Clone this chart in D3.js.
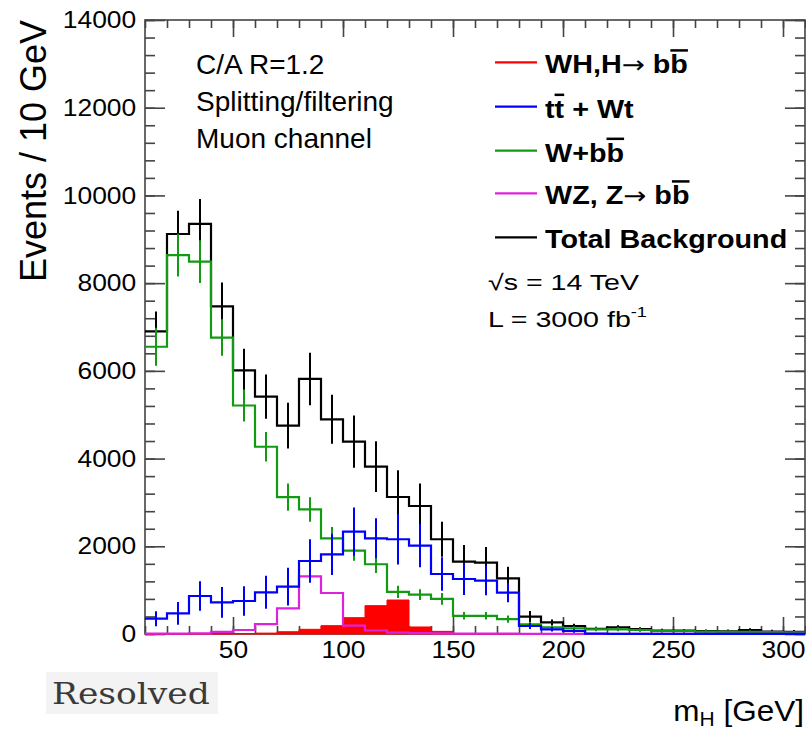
<!DOCTYPE html>
<html>
<head>
<meta charset="utf-8">
<script src="https://cdn.jsdelivr.net/npm/d3@7/dist/d3.min.js"></script>
<style>
  html, body { margin: 0; padding: 0; background: #fff; }
  svg { display: block; }
  text { font-family: "Liberation Sans", Arial, Helvetica, sans-serif; fill: #000; }
</style>
</head>
<body>
<svg id="chart" width="806" height="732"></svg>
<script>
// ---------------- DATA ----------------
// lower bin edges (GeV), bin width 10 GeV
const binLow = [10,20,30,40,50,60,70,80,90,100,110,120,130,140,150,160,170,180,190,200,210,220,230,240,250,260,270,280,290,300];
const binWidth = 10;

const sigWH   = [5,5,5,8,10,20,52,107,190,372,646,775,160,60,10,5,3,2,0,0,0,0,0,0,0,0,0,0,0,0];
const bkgTop  = [350,471,866,722,753,951,1080,1665,1817,2333,2182,2160,2014,1368,1254,1216,945,182,107,68,8,5,5,3,3,2,2,2,2,2];
const bkgTopErr = [171,258,338,350,335,376,430,494,470,550,456,578,494,380,365,335,220,70,50,40,10,5,5,5,5,5,5,5,5,5];
const bkgWbb  = [6550,8640,8490,6760,5210,4270,3120,2840,2180,1900,1590,960,900,800,415,415,340,221,152,130,107,107,91,68,68,55,50,50,45,40];
const bkgWbbErr = [433,486,486,418,365,335,312,278,258,228,198,141,122,133,84,84,84,60,50,45,45,45,40,35,35,30,30,30,30,30];
const bkgWZ   = [10,10,15,50,91,225,586,1315,935,190,80,30,20,15,10,10,8,5,5,5,5,5,5,5,5,5,5,5,5,5];
const bkgTot  = [6900,9120,9350,7470,6010,5412,4750,5815,4896,4386,3816,3124,2919,2160,1650,1627,1269,395,266,182,120,152,110,80,75,65,60,90,55,50];
const bkgTotErr = [456,532,570,547,494,506,520,600,559,597,578,610,510,400,380,357,266,130,65,50,45,45,45,40,40,40,40,40,40,40];

const yTicks = [0,2000,4000,6000,8000,10000,12000,14000];
const xTicks = [50,100,150,200,250,300];

const legendLabels = ["WH,H", "t", "W+b", "WZ, Z", "Total Background"];
const infoLines = ["C/A R=1.2", "Splitting/filtering", "Muon channel"];

// ---------------- LAYOUT ----------------
const svg = d3.select("#chart");
const L = 145, R = 805, T = 20, B = 634;

const x = d3.scaleLinear().domain([10, 310]).range([L, R]);
const y = d3.scaleLinear().domain([0, 14000]).range([B, T]);

const colors = { red: "#ff0000", blue: "#0000ff", green: "#129a12", magenta: "#dd22dd", black: "#000000" };
const axisColor = "#444";

// ---------------- AXES ----------------
function styleAxis(g) {
  g.select(".domain").remove();
  g.selectAll("line").attr("stroke", axisColor).attr("stroke-width", 1.6);
}
const yMinor = d3.range(0, 14001, 400);
const xMinor = d3.range(10, 311, 10);

// left
svg.append("g").attr("transform", `translate(${L},0)`)
  .call(d3.axisLeft(y).tickValues(yMinor).tickSize(-10).tickFormat(""))
  .call(styleAxis);
const yAx = svg.append("g").attr("transform", `translate(${L},0)`)
  .call(d3.axisLeft(y).tickValues(yTicks).tickSize(-20).tickPadding(8).tickFormat(d3.format("d")))
  .call(styleAxis);
yAx.selectAll("text").attr("font-size", 24).attr("fill", "#000")
  .style("font-family", "'Liberation Sans', Arial, sans-serif")
  .attr("transform", "scale(1.1,1)");
// right
svg.append("g").attr("transform", `translate(${R},0)`)
  .call(d3.axisRight(y).tickValues(yMinor).tickSize(-10).tickFormat(""))
  .call(styleAxis);
svg.append("g").attr("transform", `translate(${R},0)`)
  .call(d3.axisRight(y).tickValues(yTicks).tickSize(-20).tickFormat(""))
  .call(styleAxis);
// bottom
svg.append("g").attr("transform", `translate(0,${B})`)
  .call(d3.axisBottom(x).tickValues(xMinor).tickSize(-8).tickFormat(""))
  .call(styleAxis);
const xAx = svg.append("g").attr("transform", `translate(0,${B})`)
  .call(d3.axisBottom(x).tickValues(xTicks).tickSize(-17).tickPadding(7).tickFormat(d3.format("d")))
  .call(styleAxis);
xAx.selectAll("text").attr("font-size", 24).attr("fill", "#000")
  .style("font-family", "'Liberation Sans', Arial, sans-serif")
  .attr("transform", "scale(1.1,1)");
// top
svg.append("g").attr("transform", `translate(0,${T})`)
  .call(d3.axisTop(x).tickValues(xMinor).tickSize(-8).tickFormat(""))
  .call(styleAxis);
svg.append("g").attr("transform", `translate(0,${T})`)
  .call(d3.axisTop(x).tickValues(xTicks).tickSize(-17).tickFormat(""))
  .call(styleAxis);

// frame
svg.append("rect").attr("x", L).attr("y", T).attr("width", R - L).attr("height", B - T)
  .attr("fill", "none").attr("stroke", axisColor).attr("stroke-width", 1.6);

// ---------------- HISTOGRAMS ----------------
function stepPoints(vals) {
  const pts = [];
  vals.forEach((v, i) => {
    pts.push([binLow[i], v]);
    pts.push([binLow[i] + binWidth, v]);
  });
  return pts;
}
const line = d3.line().x(d => x(d[0])).y(d => y(d[1]));
const area = d3.area().x(d => x(d[0])).y0(y(0)).y1(d => y(d[1]));

const plot = svg.append("g");

// signal: filled red
plot.append("path").attr("d", area(stepPoints(sigWH))).attr("fill", colors.red).attr("stroke", colors.red).attr("stroke-width", 1);

function drawHist(vals, errs, color) {
  const g = plot.append("g");
  g.append("path").attr("d", line(stepPoints(vals)))
    .attr("fill", "none").attr("stroke", color).attr("stroke-width", 2.2);
  if (errs) {
    g.selectAll("line").data(vals).join("line")
      .attr("x1", (d, i) => x(binLow[i] + binWidth / 2))
      .attr("x2", (d, i) => x(binLow[i] + binWidth / 2))
      .attr("y1", (d, i) => y(Math.max(0, d - errs[i])))
      .attr("y2", (d, i) => y(d + errs[i]))
      .attr("stroke", color).attr("stroke-width", 2);
  }
}
drawHist(bkgTot, bkgTotErr, colors.black);
drawHist(bkgWbb, bkgWbbErr, colors.green);
drawHist(bkgWZ, null, colors.magenta);
drawHist(bkgTop, bkgTopErr, colors.blue);

// ---------------- TEXT ----------------
function txt(px, py, str, opts = {}) {
  const t = svg.append("text")
    .attr("transform", `translate(${px},${py}) scale(${opts.sx || 1},1)`)
    .attr("font-size", opts.size || 20)
    .attr("font-weight", opts.weight || "normal")
    .attr("text-anchor", opts.anchor || "start");
  if (opts.family) t.style("font-family", opts.family);
  if (opts.fill) t.style("fill", opts.fill);
  t.text(str);
  return t;
}

// y title
svg.append("text")
  .attr("transform", "translate(46,151) rotate(-90)")
  .attr("font-size", 36).attr("text-anchor", "middle")
  .text("Events / 10 GeV");

// info block
infoLines.forEach((s, i) => txt(196, 74 + i * 37.2, s, { size: 28 }));

// legend
const legColors = [colors.red, colors.blue, colors.green, colors.magenta, colors.black];
const legY = [62.3, 106.7, 150.7, 193.3, 237.3];
function arrow(t) {
  t.append("tspan").style("font-family", "'DejaVu Sans', sans-serif").attr("font-weight", "normal")
    .attr("font-size", 24).text("\u2192");
  t.append("tspan").text(" b");
}
function overB(t, s) {
  t.append("tspan").attr("text-decoration", "overline").style("text-decoration", "overline").text(s);
}
legendLabels.forEach((lab, i) => {
  svg.append("line").attr("x1", 495).attr("x2", 537).attr("y1", legY[i]).attr("y2", legY[i])
    .attr("stroke", legColors[i]).attr("stroke-width", 2.2);
  const t = txt(545, legY[i] + 11, "", { size: 25, weight: "bold", sx: 1.15 });
  t.append("tspan").text(lab);
  if (i === 0 || i === 3) { arrow(t); overB(t, "b"); }
  if (i === 2) overB(t, "b");
  if (i === 1) {
    overB(t, "t");
    t.append("tspan").text(" + Wt");
  }
});

// energy / lumi
txt(488, 290, "\u221As = 14 TeV", { size: 22, sx: 1.3 });
const lt = txt(488, 327, "L = 3000 fb", { size: 22, sx: 1.3 });
lt.append("tspan").attr("font-size", 14).attr("dy", -10).text("-1");

// x title
const xt = txt(804, 721, "", { size: 30, anchor: "end", sx: 1.05 });
xt.append("tspan").text("m");
xt.append("tspan").attr("font-size", 20).attr("dy", 5).text("H");
xt.append("tspan").attr("dy", -5).text(" [GeV]");

// Resolved label
svg.append("rect").attr("x", 46).attr("y", 672).attr("width", 172).attr("height", 42).attr("fill", "#f3f3f3");
txt(52, 704, "Resolved", { size: 30, family: "'DejaVu Serif', 'Liberation Serif', serif", fill: "#3a3a3a", sx: 1.15 });
</script>
</body>
</html>
